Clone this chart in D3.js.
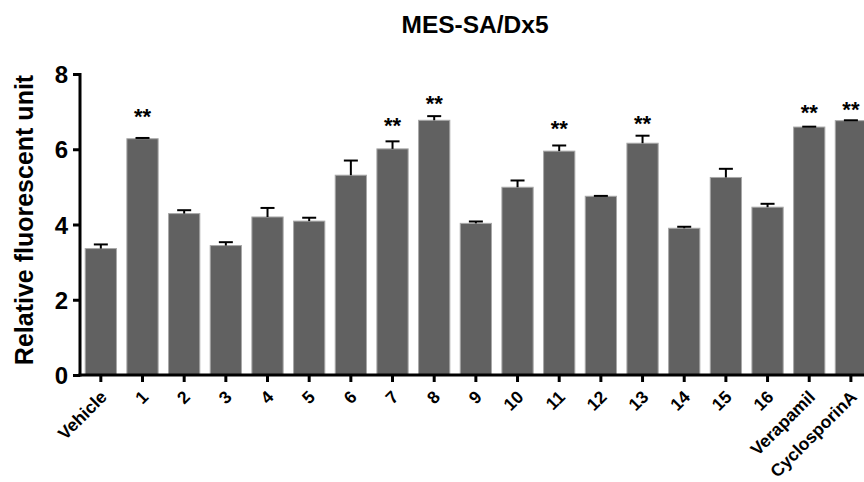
<!DOCTYPE html>
<html>
<head>
<meta charset="utf-8">
<script src="https://cdn.jsdelivr.net/npm/d3@7"></script>
<style>
  body { margin: 0; background: #fff; }
  svg { display: block; font-family: "Liberation Sans", Arial, sans-serif; }
</style>
</head>
<body>
<div id="chart"></div>
<script>
// data
var groups = ["Vehicle", "1", "2", "3", "4", "5", "6", "7", "8", "9", "10",
              "11", "12", "13", "14", "15", "16", "Verapamil", "CyclosporinA"];
var means  = [3.36, 6.28, 4.29, 3.44, 4.20, 4.09, 5.31, 6.01, 6.77, 4.03, 4.99,
              5.95, 4.75, 6.16, 3.90, 5.25, 4.46, 6.59, 6.76];
var errors = [0.11, 0.02, 0.09, 0.09, 0.24, 0.09, 0.39, 0.20, 0.11, 0.05, 0.18,
              0.15, 0.01, 0.20, 0.04, 0.23, 0.09, 0.01, 0.01];
// significance marks (group, level of the mark)
var starGroups = ["1", "7", "8", "11", "13", "Verapamil", "CyclosporinA"];
var starLevels = [6.68, 6.44, 7.02, 6.35, 6.49, 6.78, 6.86];
var yTicks = [0, 2, 4, 6, 8];

var W = 864, H = 482;
var margin = {top: 74, left: 80, bottom: 107};

var svg = d3.select("#chart").append("svg")
    .attr("width", W)
    .attr("height", H);

var x = d3.scaleBand()
    .domain(groups)
    .range([margin.left, margin.left + groups.length * 41.67])
    .paddingInner(0.25)
    .paddingOuter(0.125);

var y = d3.scaleLinear()
    .domain([0, 8])
    .range([H - margin.bottom, margin.top]);

// bars
svg.selectAll("rect.bar")
    .data(groups)
    .enter()
    .append("rect")
    .attr("class", "bar")
    .attr("x", d => x(d))
    .attr("y", (d, i) => y(means[i]))
    .attr("width", x.bandwidth())
    .attr("height", (d, i) => y(0) - y(means[i]))
    .attr("fill", "#616161")
    .attr("stroke", "#a8a8a8")
    .attr("stroke-width", 1);

// error bars (upper only)
var eb = svg.append("g").attr("stroke", "#000").attr("stroke-width", 2);
groups.forEach(function(g, i) {
    var cx = x(g) + x.bandwidth() / 2;
    eb.append("line")
        .attr("x1", cx).attr("x2", cx)
        .attr("y1", y(means[i])).attr("y2", y(means[i] + errors[i]));
    eb.append("line")
        .attr("x1", cx - 7).attr("x2", cx + 7)
        .attr("y1", y(means[i] + errors[i])).attr("y2", y(means[i] + errors[i]));
});

// stars
svg.selectAll("text.star")
    .data(starGroups)
    .enter()
    .append("text")
    .attr("class", "star")
    .attr("x", d => x(d) + x.bandwidth() / 2)
    .attr("y", (d, i) => y(starLevels[i]))
    .attr("text-anchor", "middle")
    .style("font-size", "22px")
    .style("font-weight", "bold")
    .text("**");

// y axis
var yAxis = svg.append("g")
    .attr("transform", "translate(" + margin.left + ",0)")
    .call(d3.axisLeft(y).tickValues(yTicks).tickSize(7).tickPadding(5).tickFormat(d3.format("d")));
yAxis.select(".domain").attr("stroke-width", 3).attr("d", "M0," + (y(8) - 1) + "V" + (y(0) + 1.5));
yAxis.selectAll(".tick line").attr("stroke-width", 3);
yAxis.selectAll(".tick text")
    .style("font-size", "24px")
    .style("font-weight", "bold")
    .style("font-family", "Liberation Sans, Arial, sans-serif")
    .attr("dy", "0.36em");

// x axis
var xAxis = svg.append("g")
    .attr("transform", "translate(0," + y(0) + ")")
    .call(d3.axisBottom(x).tickSize(7).tickSizeOuter(0));
xAxis.select(".domain").attr("stroke-width", 3).attr("d", "M" + (margin.left - 1.5) + ",0H" + W);
xAxis.selectAll(".tick line").attr("stroke-width", 3);
xAxis.selectAll(".tick text")
    .style("font-size", "17.5px")
    .style("font-weight", "bold")
    .style("font-family", "Liberation Sans, Arial, sans-serif")
    .attr("text-anchor", "end")
    .attr("y", 0)
    .attr("dy", 0)
    .attr("transform", "translate(7,23) rotate(-45)");

// title
svg.append("text")
    .attr("x", 475)
    .attr("y", 33)
    .attr("text-anchor", "middle")
    .style("font-size", "24.5px")
    .style("font-weight", "bold")
    .text("MES-SA/Dx5");

// y label
svg.append("text")
    .attr("transform", "translate(33," + 220 + ") rotate(-90)")
    .attr("text-anchor", "middle")
    .style("font-size", "25px")
    .style("font-weight", "bold")
    .text("Relative fluorescent unit");
</script>
</body>
</html>
